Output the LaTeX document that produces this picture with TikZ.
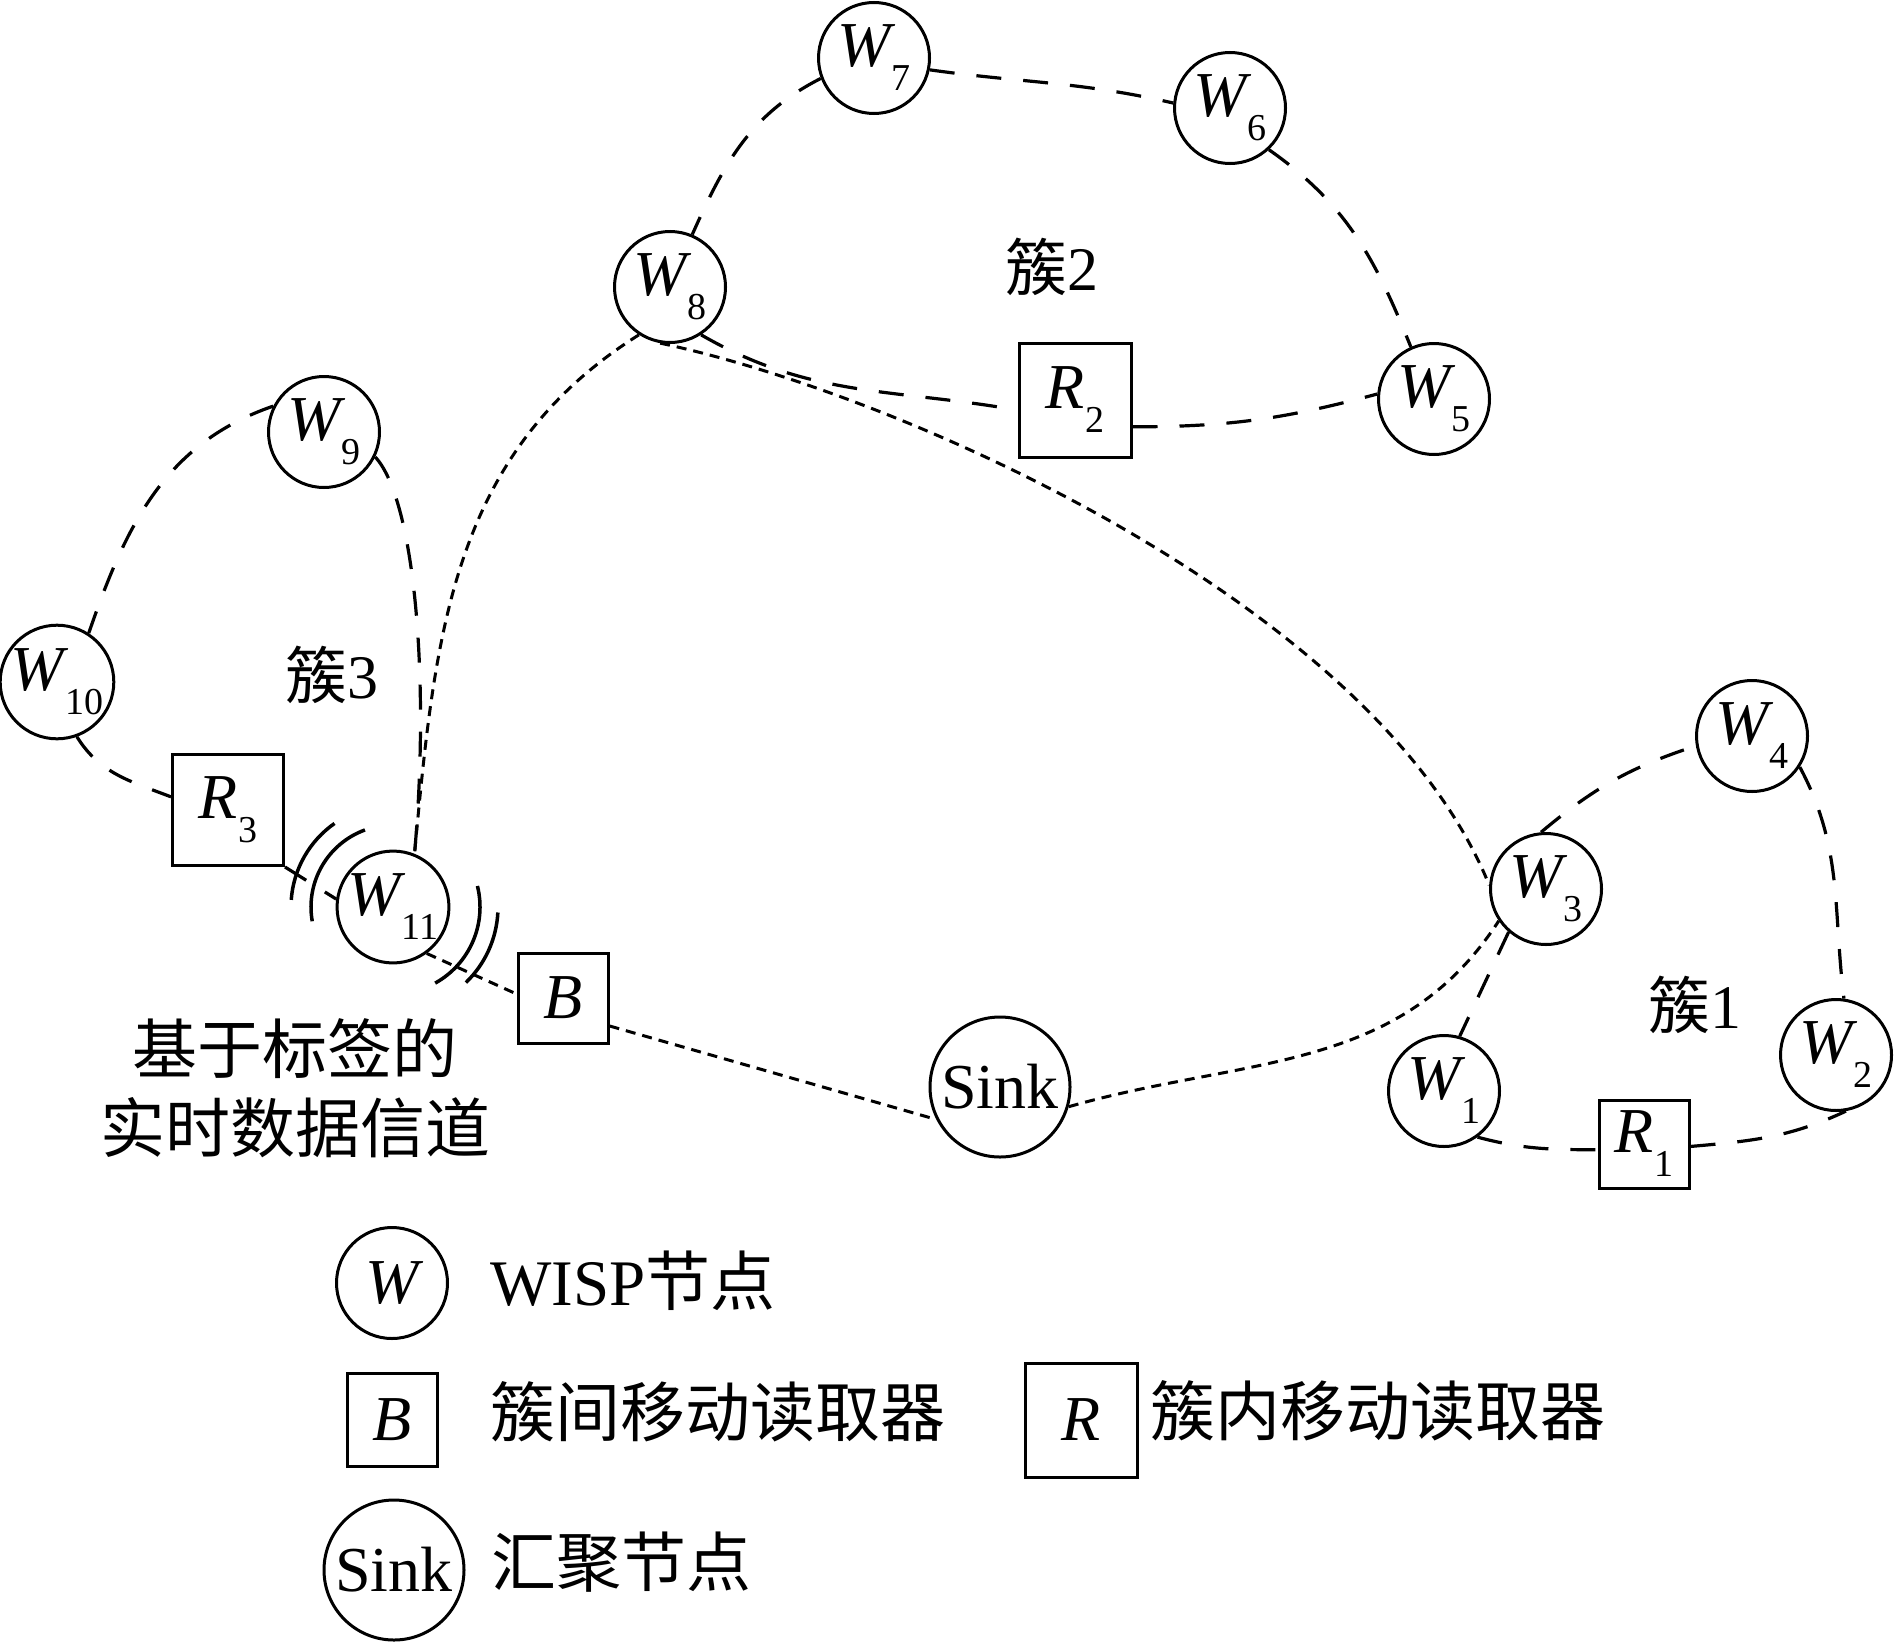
\documentclass[tikz,border=0pt]{standalone}
\usepackage{fontspec}
\setmainfont{Liberation Serif}
\newfontfamily\cj{Noto Sans CJK SC}
\usetikzlibrary{calc}
\newcommand{\Wsub}[2]{{\fontsize{64}{64}\selectfont\itshape #1}\kern1pt\raisebox{-24pt}{\fontsize{38}{38}\selectfont #2}}
\newcommand{\Wone}[1]{{\fontsize{64}{64}\selectfont\itshape #1}}
\tikzset{
 wnode/.style={circle, draw, line width=3pt, minimum size=111pt, inner sep=0pt},
 sinknode/.style={circle, draw, line width=3pt, minimum size=140pt, inner sep=0pt, font=\fontsize{64}{64}\selectfont},
 rbox/.style={rectangle, draw, line width=3pt, inner sep=0pt},
 ldash/.style={line width=3.2pt, dash pattern=on 25pt off 22pt},
 sdash/.style={line width=3pt, dash pattern=on 10pt off 7pt},
 wave/.style={line width=3.5pt},
 lbl/.style={font=\fontsize{62}{62}\selectfont, inner sep=0pt},
 lgd/.style={font=\fontsize{65}{79}\selectfont, inner sep=0pt, anchor=west},
}
\begin{document}
\begin{tikzpicture}[x=1pt,y=1pt]
\useasboundingbox (0,0) rectangle (1894,-1643);
% W nodes
\node[wnode] (W1) at (1444,-1091) {\Wsub{W}{1}};
\node[wnode] (W2) at (1836,-1055) {\Wsub{W}{2}};
\node[wnode] (W3) at (1546,-889) {\Wsub{W}{3}};
\node[wnode] (W4) at (1752,-736) {\Wsub{W}{4}};
\node[wnode] (W5) at (1434,-399) {\Wsub{W}{5}};
\node[wnode] (W6) at (1230,-108) {\Wsub{W}{6}};
\node[wnode] (W7) at (874,-58) {\Wsub{W}{7}};
\node[wnode] (W8) at (670,-287) {\Wsub{W}{8}};
\node[wnode] (W9) at (324,-432) {\Wsub{W}{9}};
\node[wnode] (W10) at (57,-682) {\Wsub{W}{10}};
\node[wnode] (W11) at (393,-907) {\Wsub{W}{11}};
% readers
\node[rbox, minimum width=112pt, minimum height=114pt] (R2) at (1075,-400) {\Wsub{R}{2}};
\node[rbox, minimum width=111pt, minimum height=111pt] (R3) at (228,-810) {\Wsub{R}{3}};
\node[rbox, minimum width=90pt, minimum height=88pt] (R1) at (1644,-1144) {\Wsub{R}{1}};
\node[rbox, minimum width=90pt, minimum height=90pt] (B) at (563,-998) {\Wone{B}};
\node[sinknode] (Sink) at (1000,-1087) {Sink};
% cluster labels
\node[lbl] (C1) at (1695,-1005) {{\cj 簇}1};
\node[lbl] (C2) at (1052,-267) {{\cj 簇}2};
\node[lbl] (C3) at (332,-675) {{\cj 簇}3};
\node[inner sep=0pt, align=center, font=\fontsize{65}{79}\selectfont\cj] (chan) at (295,-1088) {基于标签的\\实时数据信道};
% cluster 2
\draw[ldash] (W7.-12) to[out=-8, in=167] (W6.175);
\draw[ldash] (W7.201) to[out=207, in=66] (W8.67);
\draw[ldash] (W6.-47) to[out=-35, in=112] (W5.114);
\draw[ldash] (W8.-57) to[out=-30, in=170] (R2.190);
\draw[ldash] (R2.-25) to[out=0, in=195] (W5.175);
% cluster 3
\draw[ldash] (W9.153) to[out=199, in=71] (W10.57);
\draw[ldash] (W9.-26) .. controls (415,-500) and (430,-680) .. (W11.68);
\draw[ldash] (W10.-70) to[out=-58, in=159] (R3.167);
\draw[ldash] (R3.south east) -- (W11.172);
% cluster 1
\draw[ldash] (W3.95) to[out=40, in=198] (W4.190);
\draw[ldash] (W4.-33) to[out=-62, in=97] (W2.82);
\draw[ldash] (W3.-131) -- (W1.74);
\draw[ldash] (W1.-54) to[out=-15, in=180] (R1.187);
\draw[ldash] (R1.-3) to[out=5, in=205] (W2.-80);
% inter-cluster
\draw[sdash] (W11.-54) -- (B.175);
\draw[sdash] (B.-31) -- (Sink.207);
\draw[sdash] (Sink.-16) to[out=16, in=237] (W3.214);
\draw[sdash] (W8.-100) .. controls (905,-395) and (1377,-607) .. (W3.176);
\draw[sdash] (W8.-123) .. controls (451,-453) and (435,-635) .. (W11.68);
% waves
\draw[wave] ($(W11.center)+(125:102)$) arc[start angle=125, end angle=176, radius=102];
\draw[wave] ($(W11.center)+(110:82)$) arc[start angle=110, end angle=190, radius=82];
\draw[wave] ($(W11.center)+(14:87)$) arc[start angle=14, end angle=-61, radius=87];
\draw[wave] ($(W11.center)+(-3:105)$) arc[start angle=-3, end angle=-46, radius=105];
% legend
\node[wnode] (LW) at (392,-1283) {\Wone{W}};
\node[lgd] (LWt) at (490,-1281) {WISP{\cj 节点}};
\node[rbox, minimum width=90pt, minimum height=93pt] (LB) at (392,-1420) {\Wone{B}};
\node[lgd, font=\fontsize{65}{79}\selectfont\cj] (LBt) at (490,-1412) {簇间移动读取器};
\node[rbox, minimum width=112pt, minimum height=114pt] (LR) at (1081,-1420) {\Wone{R}};
\node[lgd, font=\fontsize{65}{79}\selectfont\cj] (LRt) at (1150,-1411) {簇内移动读取器};
\node[sinknode] (LS) at (394,-1570) {Sink};
\node[lgd, font=\fontsize{65}{79}\selectfont\cj] (LSt) at (491,-1562) {汇聚节点};
\end{tikzpicture}
\end{document}
